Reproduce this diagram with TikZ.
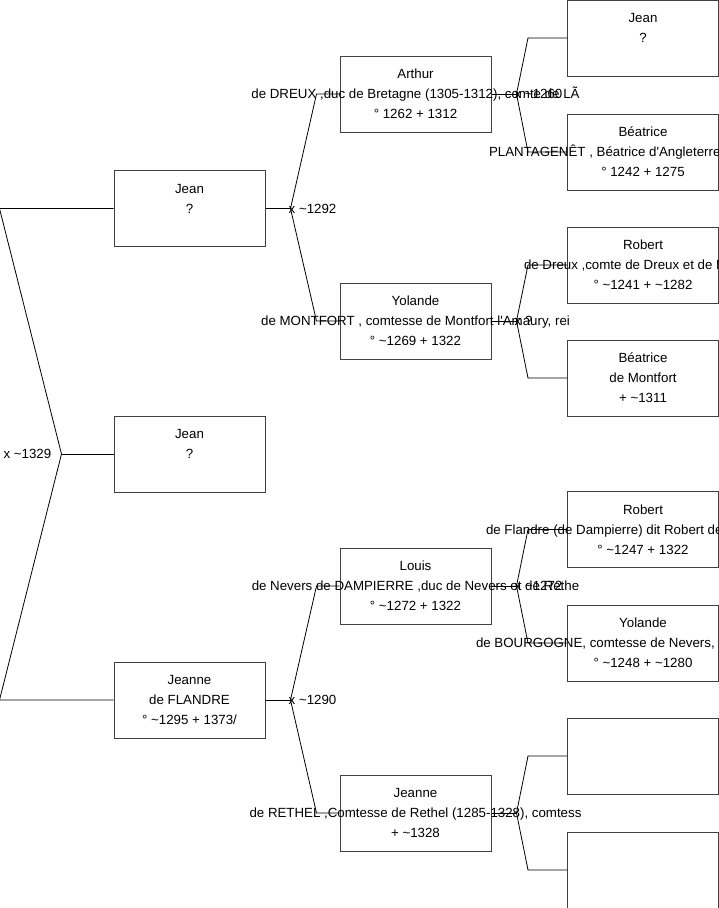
\documentclass[tikz,border=0pt]{standalone}
\usepackage{fontspec}
\setmainfont{Liberation Sans}
\usetikzlibrary{positioning}

% approximate dates, and lines that run past their box
\newcommand{\abt}{\textasciitilde}
\newcommand{\spill}[1]{\makebox[0pt]{#1}}
\newcommand{\spillat}[2]{\makebox[0pt]{\makebox[#1][l]{#2}}}

\begin{document}
\begin{tikzpicture}[x=1pt, y=-1pt, font=\fontsize{13.3}{20}\selectfont,
  person/.style={draw=black!75, line width=1pt, minimum width=151pt,
    minimum height=76pt, align=center, inner sep=0pt},
  link/.style={line width=0.8pt},
  wedding/.style={anchor=west, inner sep=0pt, font=\fontsize{13.3}{15}\selectfont}]

  \useasboundingbox (0,0) rectangle (719,908);

  % --- generation 1 ---
  \node[person] (jean)   at (189.5,208.5) {Jean\\?\\~};
  \node[person] (root)   at (189.5,454)   {Jean\\?\\~};
  \node[person] (jeanne) at (189.5,700)   {Jeanne\\de FLANDRE\\° \abt1295 + 1373/};

  % --- generation 2 ---
  \node[person] (arthur)  at (415.5,94)  {Arthur\\\spill{de DREUX ,duc de Bretagne (1305-1312), comte de LÃ}\\° 1262 + 1312};
  \node[person] (yolande) at (415.5,321) {Yolande\\\spill{de MONTFORT , comtesse de Montfort l\textquotesingle Amaury,  rei}\\° \abt1269 + 1322};
  \node[person] (louis)   at (415.5,586) {Louis\\\spill{de Nevers de DAMPIERRE ,duc de Nevers et de Rethe}\\° \abt1272 + 1322};
  \node[person] (rethel)  at (415.5,813) {Jeanne\\\spill{de RETHEL ,Comtesse de Rethel (1285-1328), comtess}\\+ \abt1328};

  % --- generation 3 (cut by the right edge) ---
  \node[person] (jeanii)    at (643,38)    {Jean\\?\\~};
  \node[person] (beatrice)  at (643,152)   {Béatrice\\\spillat{308pt}{PLANTAGENÊT , Béatrice d\textquotesingle Angleterre}\\° 1242 + 1275};
  \node[person] (robert)    at (643,265)   {Robert\\\spillat{238pt}{de Dreux ,comte de Dreux et de M}\\° \abt1241 + \abt1282};
  \node[person] (beatricem) at (643,378)   {Béatrice\\de Montfort\\+ \abt1311};
  \node[person] (robertf)   at (643,529.5) {Robert\\\spillat{314pt}{de Flandre (de Dampierre) dit Robert de}\\° \abt1247 + 1322};
  \node[person] (yolandeb)  at (643,643)   {Yolande\\\spillat{334pt}{de BOURGOGNE, comtesse de Nevers,}\\° \abt1248 + \abt1280};
  \node[person] (blanka)    at (643,756)   {};
  \node[person] (blankb)    at (643,870)   {};

  % --- root couple ---
  \draw[link] (root.west) -- ++(-52,0) coordinate (u-root);
  \draw[link] (jean.west) -- ++(-114,0) -- (u-root) -- ([xshift=-114pt]jeanne.west) -- (jeanne.west);
  \node[anchor=east, inner sep=0pt] at ([xshift=-10pt]u-root) {x \abt1329};

  % --- generation 1 -> 2 ---
  \foreach \kid/\dad/\mum/\wed in {jean/arthur/yolande/{x \abt1292}, jeanne/louis/rethel/{x \abt1290}} {
    \draw[link] (\kid.east) -- ++(25,0) coordinate (u-\kid);
    \draw[link] (\dad.west) -- ++(-23,0) -- (u-\kid) -- ([xshift=-23pt]\mum.west) -- (\mum.west);
    \node[wedding] at ([xshift=-2pt]u-\kid) {\wed};
  }

  % --- generation 2 -> 3 ---
  \foreach \kid/\dad/\mum/\wed in {arthur/jeanii/beatrice/{x \abt1260}, yolande/robert/beatricem/{x ?},
      louis/robertf/yolandeb/{x \abt1272}, rethel/blanka/blankb/{}} {
    \draw[link] (\kid.east) -- ++(25,0) coordinate (u-\kid);
    \draw[link] (\dad.west) -- ++(-39,0) -- (u-\kid) -- ([xshift=-39pt]\mum.west) -- (\mum.west);
    \node[wedding] at ([xshift=-2pt]u-\kid) {\wed};
  }

\end{tikzpicture}
\end{document}
